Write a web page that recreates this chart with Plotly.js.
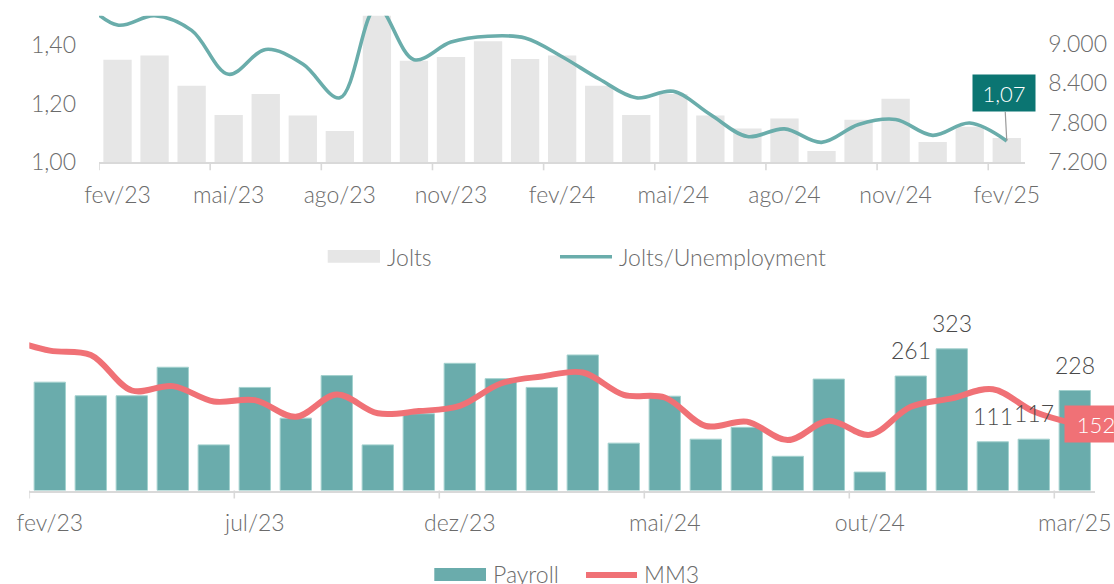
<!DOCTYPE html>
<html>
<head>
<meta charset="utf-8">
<script src="https://cdn.plot.ly/plotly-3.0.1.min.js"></script>
<style>
  html, body { margin: 0; padding: 0; background: #ffffff; }
  #chart { width: 1114px; height: 584px; }
</style>
</head>
<body>
<div id="chart"></div>
<script>
// ---------------- DATA ----------------
// Top panel (Jan/23 exists only so the smoothed line enters from the left edge, as in the source)
var topMonths = ['jan/23','fev/23','mar/23','abr/23','mai/23','jun/23','jul/23','ago/23','set/23','out/23','nov/23','dez/23',
                 'jan/24','fev/24','mar/24','abr/24','mai/24','jun/24','jul/24','ago/24','set/24','out/24','nov/24','dez/24',
                 'jan/25','fev/25'];
var jolts = [null, 8754, 8819, 8359, 7918, 8233, 7908, 7675, 9500, 8739, 8795, 9032,
             8765, 8819, 8359, 7918, 8233, 7908, 7710, 7862, 7372, 7843, 8162, 7508,
             7740, 7569];
var joltsUnemp = [1.56, 1.468, 1.50, 1.45, 1.30, 1.385, 1.335, 1.22, 1.53, 1.35, 1.41, 1.43,
                  1.424, 1.36, 1.284, 1.22, 1.242, 1.163, 1.088, 1.114, 1.068, 1.129, 1.146, 1.092,
                  1.134, 1.073];
var topTickLabels = ['fev/23','mai/23','ago/23','nov/23','fev/24','mai/24','ago/24','nov/24','fev/25'];
var leftTicks = [1.00, 1.20, 1.40];
var rightTicks = [7200, 7800, 8400, 9000];
var topSeriesNames = ['Jolts', 'Jolts/Unemployment'];

// Bottom panel
var botMonths = ['jan/23','fev/23','mar/23','abr/23','mai/23','jun/23','jul/23','ago/23','set/23','out/23','nov/23','dez/23',
                 'jan/24','fev/24','mar/24','abr/24','mai/24','jun/24','jul/24','ago/24','set/24','out/24','nov/24','dez/24',
                 'jan/25','fev/25','mar/25'];
var payroll = [null, 247, 216, 216, 281, 104, 235, 165, 262, 104, 175, 290,
               255, 235, 309, 108, 215, 117, 144, 78, 254, 42, 261, 323,
               111, 117, 228];
var mm3 = [345, 319, 309, 228, 238, 203, 206, 168, 219, 176, 181, 193,
           244, 260, 269, 218, 212, 147, 157, 115, 159, 127, 191, 210,
           231, 180, 152];
var botTickLabels = ['fev/23','jul/23','dez/23','mai/24','out/24','mar/25'];
var labelledMonths = ['nov/24','dez/24','jan/25','fev/25','mar/25'];
var botSeriesNames = ['Payroll', 'MM3'];

// ---------------- LAYOUT HELPERS ----------------
var W = 1114, H = 584;
function px(x) { return x / W; }
function py(y) { return 1 - y / H; }

var TEAL = '#6aadab', GREY_BAR = '#e6e6e6', RED = '#f07176', DARK_TEAL = '#0b7572';
var FAMILY = '"Lato Light", Lato, "Open Sans", sans-serif';
var TICK_COLOR = '#6b6b6b';
var FONT = {family: FAMILY, size: 23, color: TICK_COLOR, weight: 300};

var topX = [99, 1025.3], topY = [15.7, 162.3];
var botX = [29.3, 1095.3], botY = [301.9, 490.5];

function fmtComma(v) { return v.toFixed(2).replace('.', ','); }

// ---------------- TRACES ----------------
var traces = [
  {type: 'bar', name: topSeriesNames[0], x: topMonths, y: jolts, xaxis: 'x', yaxis: 'y',
   marker: {color: GREY_BAR}, hoverinfo: 'skip'},
  {type: 'scatter', mode: 'lines', name: topSeriesNames[1], x: topMonths, y: joltsUnemp, xaxis: 'x', yaxis: 'y2',
   line: {color: TEAL, width: 3.6, shape: 'spline', smoothing: 1}, hoverinfo: 'skip'},
  {type: 'bar', name: botSeriesNames[0], x: botMonths, y: payroll, xaxis: 'x2', yaxis: 'y3',
   marker: {color: '#6aacac', line: {color: '#a3d1ce', width: 1}}, hoverinfo: 'skip'},
  {type: 'scatter', mode: 'lines', name: botSeriesNames[1], x: botMonths, y: mm3, xaxis: 'x2', yaxis: 'y3',
   line: {color: RED, width: 6, shape: 'spline', smoothing: 1}, hoverinfo: 'skip'}
];

// ---------------- ANNOTATIONS ----------------
var annotations = [];
var lastTop = topMonths.length - 1;
annotations.push({
  x: topMonths[lastTop], y: joltsUnemp[lastTop], xref: 'x', yref: 'y2',
  text: fmtComma(joltsUnemp[lastTop]), showarrow: true, arrowhead: 0, arrowwidth: 1.2,
  arrowcolor: '#9a9a9a', ax: -2.5, ay: -47.7, axref: 'pixel', ayref: 'pixel',
  bgcolor: DARK_TEAL, borderpad: 2, width: 58, height: 32,
  font: {family: FAMILY, size: 22, color: '#ffffff', weight: 300}
});
var lastBot = botMonths.length - 1;
annotations.push({
  x: botMonths[lastBot], y: mm3[lastBot], xref: 'x2', yref: 'y3',
  text: String(mm3[lastBot]), showarrow: false, xshift: 21.5,
  bgcolor: RED, borderpad: 2, width: 58, height: 32,
  font: {family: FAMILY, size: 22, color: '#ffffff', weight: 300}
});
labelledMonths.forEach(function (m) {
  var i = botMonths.indexOf(m);
  annotations.push({
    x: m, y: payroll[i], xref: 'x2', yref: 'y3', text: String(payroll[i]),
    showarrow: false, yanchor: 'bottom', yshift: 10,
    font: {family: FAMILY, size: 23, color: '#4a4a4a', weight: 300}
  });
});

// ---------------- SHAPES: boundary tick marks + legends ----------------
var shapes = [];
var axisLine = '#d9d9d9';
function boundaryTicks(months, labels, xref, axisYpx) {
  labels.forEach(function (m) {
    var b = months.indexOf(m) - 0.5;
    shapes.push({type: 'line', xref: xref, yref: 'paper', x0: b, x1: b,
      y0: py(axisYpx), y1: py(axisYpx + 8), line: {color: axisLine, width: 1.6}});
  });
}
boundaryTicks(topMonths, topTickLabels, 'x', topY[1]);
boundaryTicks(botMonths, botTickLabels, 'x2', botY[1]);

function legendText(x, y, t) {
  annotations.push({x: px(x), y: py(y), xref: 'paper', yref: 'paper', text: t, showarrow: false,
    xanchor: 'left', yanchor: 'middle', font: {family: FAMILY, size: 23, color: TICK_COLOR, weight: 300}});
}
shapes.push({type: 'rect', xref: 'paper', yref: 'paper', x0: px(327.7), x1: px(380), y0: py(262.7), y1: py(250),
  fillcolor: GREY_BAR, line: {width: 0}});
legendText(385, 257, topSeriesNames[0]);
shapes.push({type: 'line', xref: 'paper', yref: 'paper', x0: px(560), x1: px(612), y0: py(256.7), y1: py(256.7),
  line: {color: TEAL, width: 3.6}});
legendText(617, 257, topSeriesNames[1]);

shapes.push({type: 'rect', xref: 'paper', yref: 'paper', x0: px(434.3), x1: px(486), y0: py(581), y1: py(568),
  fillcolor: '#6aacac', line: {width: 0}});
legendText(490.5, 574, botSeriesNames[0]);
shapes.push({type: 'line', xref: 'paper', yref: 'paper', x0: px(586), x1: px(637), y0: py(575), y1: py(575),
  line: {color: RED, width: 6}});
legendText(642, 574, botSeriesNames[1]);

// ---------------- LAYOUT ----------------
var tickFont = {family: FAMILY, size: 23, color: TICK_COLOR, weight: 300};
var layout = {
  width: W, height: H,
  margin: {l: 0, r: 0, t: 0, b: 0, pad: 0},
  paper_bgcolor: '#ffffff', plot_bgcolor: 'rgba(0,0,0,0)',
  font: FONT,
  separators: ',.',
  showlegend: false,
  bargap: 0.236,
  xaxis: {
    domain: [px(topX[0]), px(topX[1])], anchor: 'y', type: 'category',
    categoryorder: 'array', categoryarray: topMonths, range: [0.5, topMonths.length - 0.5],
    tickmode: 'array', tickvals: topTickLabels, ticktext: topTickLabels, tickfont: tickFont,
    ticks: '', showline: true, linecolor: axisLine, linewidth: 1.6, showgrid: false, zeroline: false,
    ticklabelstandoff: 11, fixedrange: true
  },
  yaxis: {
    domain: [py(topY[1]), py(topY[0])], anchor: 'x', side: 'right',
    range: [7200, 9420], tickmode: 'array', tickvals: rightTicks, tickformat: ',.0f', tickfont: tickFont,
    showgrid: false, zeroline: false, showline: false, ticks: '', ticklabelstandoff: 22, fixedrange: true
  },
  yaxis2: {
    overlaying: 'y', anchor: 'x', side: 'left',
    range: [1.0, 1.5], tickmode: 'array', tickvals: leftTicks, tickformat: '.2f', tickfont: tickFont,
    showgrid: false, zeroline: false, showline: false, ticks: '', ticklabelstandoff: 22, fixedrange: true
  },
  xaxis2: {
    domain: [px(botX[0]), px(botX[1])], anchor: 'y3', type: 'category',
    categoryorder: 'array', categoryarray: botMonths, range: [0.5, botMonths.length - 0.5],
    tickmode: 'array', tickvals: botTickLabels, ticktext: botTickLabels, tickfont: tickFont,
    ticks: '', showline: true, linecolor: axisLine, linewidth: 1.6, showgrid: false, zeroline: false,
    ticklabelstandoff: 11, fixedrange: true
  },
  yaxis3: {
    domain: [py(botY[1]), py(botY[0])], anchor: 'x2', range: [0, 430], visible: false, fixedrange: true
  },
  annotations: annotations,
  shapes: shapes
};

Plotly.newPlot('chart', traces, layout, {displayModeBar: false, responsive: false});
</script>
</body>
</html>
